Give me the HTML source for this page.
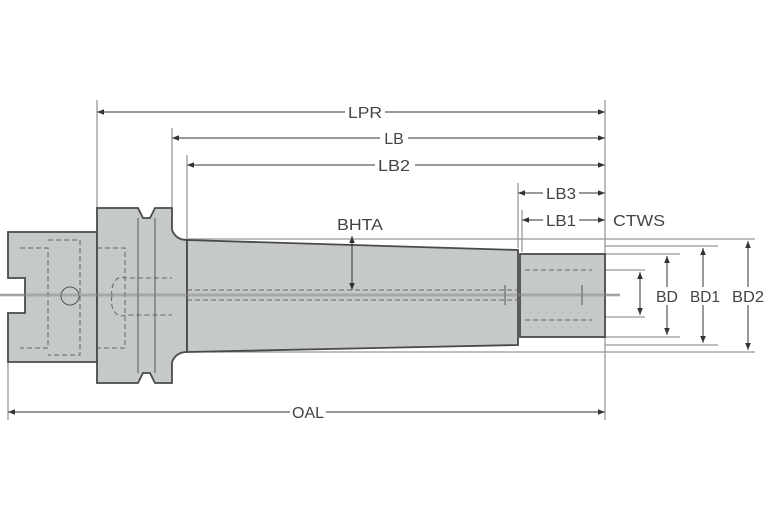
<!DOCTYPE html>
<html><head><style>html,body{margin:0;padding:0;background:#fff}svg{display:block}text{font-family:"Liberation Sans",sans-serif;font-size:16px;fill:#444}</style></head><body>
<svg width="767" height="523" viewBox="0 0 767 523" xmlns="http://www.w3.org/2000/svg">
<defs><marker id="a" viewBox="0 0 10 10" refX="10" refY="5" markerWidth="7" markerHeight="7" orient="auto-start-reverse"><path d="M0,1 L10,5 L0,9z" fill="#333"/></marker></defs>
<g stroke="#999" stroke-width="1.3" fill="none">
<line x1="97" y1="100" x2="97" y2="208"/><line x1="172" y1="128" x2="172" y2="208"/><line x1="187" y1="155" x2="187" y2="238"/>
<line x1="518" y1="183" x2="518" y2="248"/><line x1="522" y1="210" x2="522" y2="252"/>
<line x1="8" y1="362" x2="8" y2="420"/>
<line x1="605" y1="100" x2="605" y2="420"/>
<line x1="185" y1="239" x2="755" y2="239"/><line x1="605" y1="246" x2="718" y2="246"/><line x1="605" y1="254" x2="680" y2="254"/>
<line x1="605" y1="270" x2="645" y2="270"/><line x1="605" y1="317" x2="645" y2="317"/>
<line x1="605" y1="337" x2="680" y2="337"/><line x1="605" y1="345" x2="718" y2="345"/><line x1="185" y1="352" x2="755" y2="352"/>
<line x1="0" y1="295" x2="620" y2="295"/>
</g>
<g fill="#c5cac8" stroke="#4a4a4a" stroke-width="1.8">
<path d="M8,232 L97,232 L97,362 L8,362 L8,313 L25,313 L25,278 L8,278z"/>
<path d="M97,208 L138,208 L143,218 L150,218 L155,208 L172,208 L172,230 Q176,240 187,240 L187,352 Q176,352 172,362 L172,383 L155,383 L150,373 L143,373 L138,383 L97,383z"/>
<path d="M187,240 L518,250 L518,345 L187,352z"/>
<rect x="520" y="254" width="85" height="83"/>
</g>
<g stroke="#666" stroke-width="1" fill="none" stroke-dasharray="5,3">
<path d="M20,248 H48 V348 H20"/><path d="M48,240 H80 V355 H48"/><path d="M97,248 H125 V348 H97"/>
<path d="M112,296 A10,15 0 0 1 125,278 H172 M112,296 A10,15 0 0 0 125,315 H172"/>
<path d="M187,290 H518 M187,300 H518"/><path d="M525,270 H592 M525,320 H592"/>
</g>
<g stroke="#555" stroke-width="1" fill="none"><line x1="138" y1="218" x2="138" y2="373"/><line x1="155" y1="218" x2="155" y2="373"/><circle cx="70" cy="296" r="9"/><line x1="505" y1="285" x2="505" y2="305"/><line x1="582" y1="285" x2="582" y2="305"/></g>
<line x1="0" y1="295" x2="620" y2="295" stroke="#888" stroke-width="3" opacity=".5"/>
<g stroke="#333" stroke-width="1" marker-start="url(#a)" marker-end="url(#a)">
<line x1="97" y1="112" x2="605" y2="112"/><line x1="172" y1="138" x2="605" y2="138"/><line x1="187" y1="165" x2="605" y2="165"/>
<line x1="518" y1="193" x2="605" y2="193"/><line x1="522" y1="220" x2="605" y2="220"/>
<line x1="8" y1="412" x2="605" y2="412"/>
<line x1="667" y1="256" x2="667" y2="335"/><line x1="703" y1="248" x2="703" y2="343"/><line x1="748" y1="241" x2="748" y2="350"/>
<line x1="640" y1="272" x2="640" y2="315"/>
</g>
<line x1="352" y1="236" x2="352" y2="290" stroke="#333" marker-end="url(#a)" marker-start="url(#a)"/>
<g text-anchor="middle">
<rect x="345" y="103" width="40" height="18" fill="#fff"/><text x="365" y="118" textLength="34" lengthAdjust="spacingAndGlyphs">LPR</text>
<rect x="380" y="129" width="28" height="18" fill="#fff"/><text x="394" y="144">LB</text>
<rect x="375" y="156" width="40" height="18" fill="#fff"/><text x="394" y="171" textLength="32" lengthAdjust="spacingAndGlyphs">LB2</text>
<rect x="543" y="184" width="36" height="18" fill="#fff"/><text x="561" y="199" textLength="30" lengthAdjust="spacingAndGlyphs">LB3</text>
<rect x="543" y="211" width="36" height="18" fill="#fff"/><text x="561" y="226" textLength="30" lengthAdjust="spacingAndGlyphs">LB1</text>
<text x="639" y="226" textLength="52" lengthAdjust="spacingAndGlyphs">CTWS</text>
<text x="360" y="230" textLength="46" lengthAdjust="spacingAndGlyphs">BHTA</text>
<rect x="290" y="403" width="36" height="18" fill="#fff"/><text x="308" y="418" textLength="32" lengthAdjust="spacingAndGlyphs">OAL</text>
<rect x="652" y="287" width="30" height="18" fill="#fff"/><text x="667" y="302" textLength="22" lengthAdjust="spacingAndGlyphs">BD</text>
<rect x="688" y="287" width="32" height="18" fill="#fff"/><text x="705" y="302" textLength="30" lengthAdjust="spacingAndGlyphs">BD1</text>
<rect x="730" y="287" width="37" height="18" fill="#fff"/><text x="748" y="302" textLength="32" lengthAdjust="spacingAndGlyphs">BD2</text>
</g>
</svg>
</body></html>
